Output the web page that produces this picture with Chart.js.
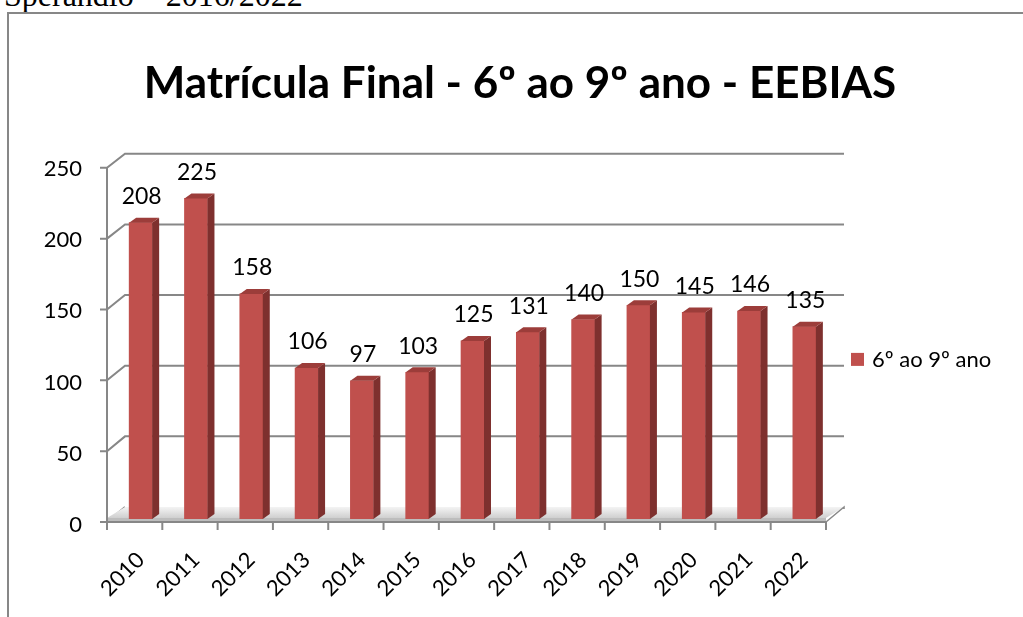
<!DOCTYPE html>
<html>
<head>
<meta charset="utf-8">
<title>Matrícula Final - 6º ao 9º ano - EEBIAS</title>
<script src="https://cdn.jsdelivr.net/npm/chart.js@4.4.0/dist/chart.umd.min.js"></script>
<style>
  html, body { margin: 0; padding: 0; background: #fff; overflow: hidden; }
  body { width: 1023px; height: 617px; position: relative; }
  .header { position: absolute; left: 4px; top: -21px; font: 32px/32px "Liberation Serif", "Times New Roman", serif; color: #000; white-space: nowrap; }
  .frame { position: absolute; left: 7px; top: 12px; width: 1100px; height: 700px; border-left: 2px solid #878787; border-top: 2px solid #878787; }
  #chart { position: absolute; left: 0; top: 0; }
</style>
</head>
<body>
<div class="header">Sperandio – 2016/2022</div>
<div class="frame"></div>
<canvas id="chart" width="1023" height="617"></canvas>

<script>
const years = ["2010", "2011", "2012", "2013", "2014", "2015", "2016", "2017", "2018", "2019", "2020", "2021", "2022"];
const enrolment = [208, 225, 158, 106, 97, 103, 125, 131, 140, 150, 145, 146, 135];
const seriesName = "6º ao 9º ano";
const chartTitle = "Matrícula Final - 6º ao 9º ano - EEBIAS";

const FONT = "Lato";
const GRID = "#878787";
const BAR = "#C0504D";

// fake Excel-style 3D: floor, back wall gridlines, bar sides/tops
const depthPlugin = {
  id: "depth3d",
  beforeDatasetsDraw(chart) {
    const { ctx, scales: { x, y } } = chart;
    const top = y.max;
    const frontY = v => y.getPixelForValue(v) + 3 + 2 * v / top;
    const backY = v => y.getPixelForValue(v) - 12 + 3 * v / top;
    const left = x.left - 6, right = x.right - 6, dx = 18;

    ctx.save();
    ctx.strokeStyle = GRID;
    ctx.lineWidth = 2;

    // back wall gridlines + diagonals from front axis
    y.ticks.forEach(t => {
      const v = t.value;
      ctx.beginPath();
      ctx.moveTo(left - 7, frontY(v));
      ctx.lineTo(left, frontY(v));
      ctx.lineTo(left + dx, backY(v));
      if (v > 0) ctx.lineTo(right + dx, backY(v));
      ctx.stroke();
    });

    // floor
    const f0 = frontY(0), b0 = backY(0);
    const g = ctx.createLinearGradient(0, b0, 0, f0 - 4);
    g.addColorStop(0, "#f4f4f4");
    g.addColorStop(1, "#cfcfcf");
    ctx.fillStyle = g;
    ctx.beginPath();
    ctx.moveTo(left, f0 - 4);
    ctx.lineTo(right, f0 - 4);
    ctx.lineTo(right + dx, b0);
    ctx.lineTo(left + dx, b0);
    ctx.closePath();
    ctx.fill();
    ctx.fillStyle = "#bdbdbd";
    ctx.fillRect(left, f0 - 4, right - left, 4);
    ctx.lineWidth = 1.5;
    ctx.beginPath();
    ctx.moveTo(right, f0);
    ctx.lineTo(right + dx, b0);
    ctx.lineTo(right + dx, b0 + 2);
    ctx.stroke();

    // front axes
    ctx.lineWidth = 2;
    ctx.beginPath();
    ctx.moveTo(left, frontY(top));
    ctx.lineTo(left, f0);
    ctx.lineTo(right, f0);
    ctx.stroke();
    const step = (right - left) / years.length;
    for (let i = 0; i <= years.length; i++) {
      ctx.beginPath();
      ctx.moveTo(left + i * step, f0);
      ctx.lineTo(left + i * step, f0 + 8);
      ctx.stroke();
    }
    ctx.restore();
  },
  afterDatasetsDraw(chart) {
    const { ctx } = chart;
    const meta = chart.getDatasetMeta(0);
    const dx = 7, dy = 5;
    ctx.save();
    meta.data.forEach((bar, i) => {
      const { x, y, width, base } = bar.getProps(["x", "y", "width", "base"], true);
      const l = x - width / 2, r = x + width / 2;
      // side
      ctx.fillStyle = "#7e302e";
      ctx.beginPath();
      ctx.moveTo(r, y);
      ctx.lineTo(r + dx, y - dy);
      ctx.lineTo(r + dx, base - dy);
      ctx.lineTo(r, base);
      ctx.closePath();
      ctx.fill();
      // top
      ctx.fillStyle = "#9c3d3a";
      ctx.beginPath();
      ctx.moveTo(l, y);
      ctx.lineTo(l + dx, y - dy);
      ctx.lineTo(r + dx, y - dy);
      ctx.lineTo(r, y);
      ctx.closePath();
      ctx.fill();
      // value label
      ctx.fillStyle = "#000";
      ctx.font = "23px " + FONT;
      ctx.textAlign = "center";
      ctx.textBaseline = "middle";
      ctx.fillText(String(enrolment[i]), x + 1, y - 26);
    });
    ctx.restore();
  }
};

// legend as a layout box on the right so the title stays centred on the whole frame
const sideLegend = {
  id: "sideLegend",
  beforeInit(chart) {
    const box = {
      position: "right",
      weight: 5,
      fullSize: false,
      options: {},
      left: 0, top: 0, right: 0, bottom: 0, width: 0, height: 0,
      isHorizontal() { return false; },
      update(maxWidth, maxHeight) { this.width = 191; this.height = maxHeight; },
      draw() {
        const ctx = chart.ctx;
        const cy = (this.top + this.bottom) / 2 + 19;
        ctx.save();
        ctx.fillStyle = BAR;
        ctx.fillRect(this.left + 19, cy - 7, 13, 13);
        ctx.fillStyle = "#000";
        ctx.font = "22px " + FONT;
        ctx.textAlign = "left";
        ctx.textBaseline = "middle";
        ctx.fillText(seriesName, this.left + 40, cy);
        ctx.restore();
      }
    };
    Chart.layouts.addBox(chart, box);
  }
};

new Chart(document.getElementById("chart"), {
  type: "bar",
  data: {
    labels: years,
    datasets: [{
      label: seriesName,
      data: enrolment,
      backgroundColor: BAR,
      barThickness: 23
    }]
  },
  options: {
    responsive: false,
    animation: false,
    layout: { padding: { left: 17, right: 0, top: 0, bottom: 0 } },
    plugins: {
      legend: { display: false },
      tooltip: { enabled: false },
      title: {
        display: true,
        text: chartTitle,
        color: "#000",
        font: { family: FONT, size: 44, weight: "bold" },
        padding: { top: 57, bottom: 53 }
      }
    },
    scales: {
      x: {
        grid: { display: false, drawTicks: false },
        border: { display: false },
        ticks: { color: "#000", font: { family: FONT, size: 22 }, minRotation: 45, maxRotation: 45, padding: 28 },
        afterFit: s => { s.height = 98; }
      },
      y: {
        min: 0,
        max: 250,
        grid: { display: false, drawTicks: false },
        border: { display: false },
        ticks: { stepSize: 50, color: "#000", font: { family: FONT, size: 22 }, padding: 31, labelOffset: 6 },
        afterFit: s => { s.width = 96; }
      }
    }
  },
  plugins: [depthPlugin, sideLegend]
});
</script>
</body>
</html>
